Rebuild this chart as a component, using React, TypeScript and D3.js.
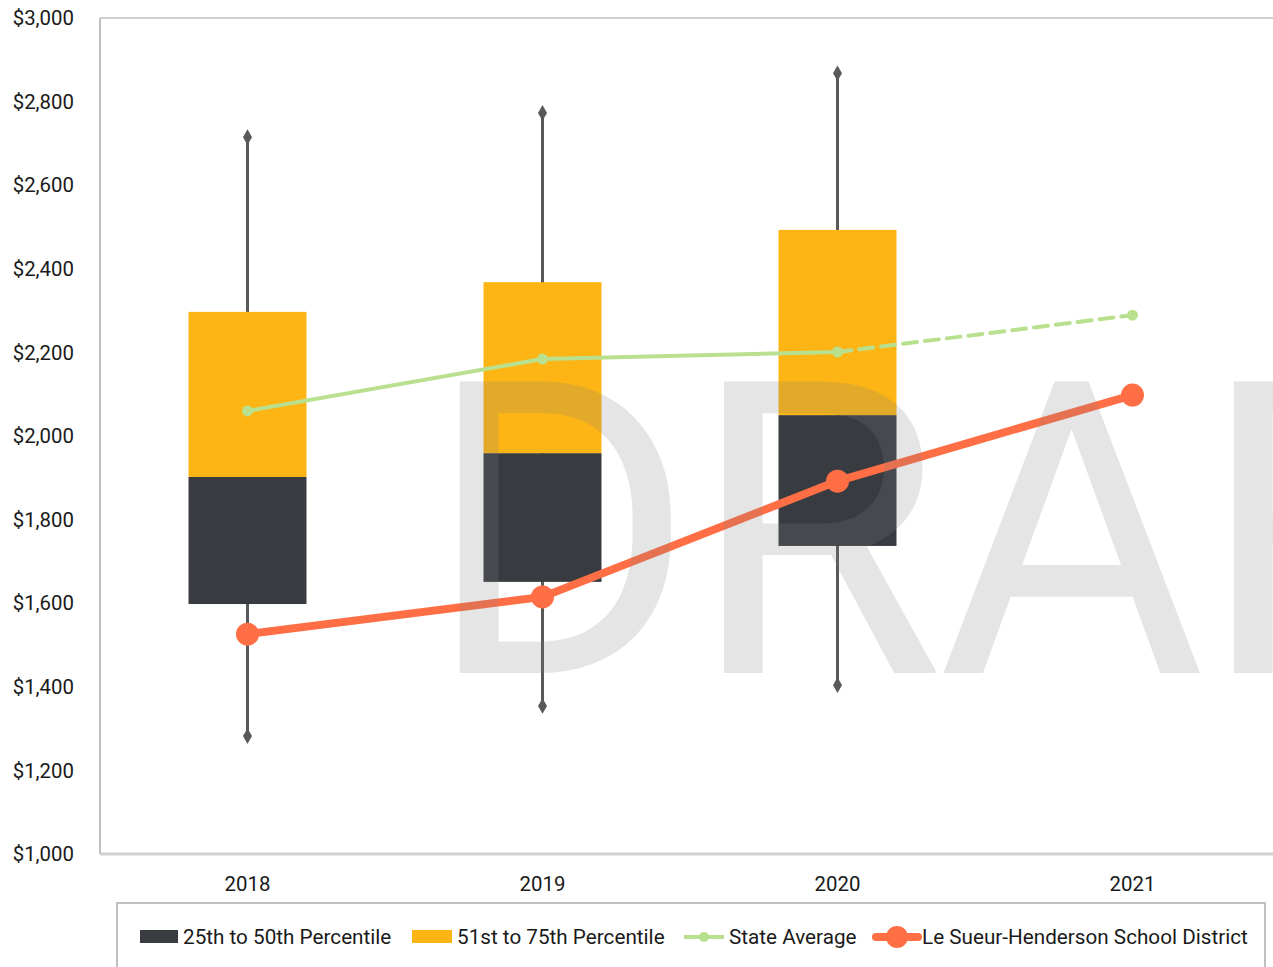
import React from "react";
import * as d3 from "d3";

const years = ["2018", "2019", "2020", "2021"];
const boxYears = ["2018", "2019", "2020"];
const whiskerLow = [1282, 1354, 1404];
const p25 = [1598, 1651, 1737];
const p50 = [1902, 1959, 2050];
const p75 = [2297, 2368, 2493];
const whiskerHigh = [2715, 2773, 2868];
const stateAverage = [2060, 2184, 2201, 2289];
const district = [1526, 1615, 1892, 2098];
const yTicks = [1000, 1200, 1400, 1600, 1800, 2000, 2200, 2400, 2600, 2800, 3000];

const W = 1273, H = 967;
const M = { left: 100, top: 18, right: 1280, bottom: 854 };
const DARK = "#383c41";
const GOLD = "#fdb515";
const GREEN = "#b9e08f";
const ORANGE = "#ff6e45";
const WHISK = "#595959";
const FONT = "Roboto, 'Noto Sans', sans-serif";
const LFS = 20.7;

export default function App() {
  const x = d3.scaleBand<string>().domain(years).range([M.left, M.right]);
  const y = d3.scaleLinear().domain([1000, 3000]).range([M.bottom, M.top]);
  const cx = (yr: string) => (x(yr) as number) + x.bandwidth() / 2;
  const bw = x.bandwidth() * 0.4;
  const fmt = (v: number) => "$" + d3.format(",")(v);

  const lineGen = d3
    .line<number>()
    .x((_, i) => cx(years[i]))
    .y((d) => y(d));

  const diamond = d3.symbol().type(d3.symbolDiamond).size(70)();

  return (
    <svg width={W} height={H} style={{ display: "block", position: "absolute", left: 0, top: 0 }} fontFamily={FONT}>
      <rect x={0} y={0} width={W} height={H} fill="#fff" />
      {/* plot border */}
      <line x1={M.left} x2={M.left} y1={M.top} y2={M.bottom} stroke="#bfbfbf" strokeWidth={2} />
      <line x1={M.left} x2={W} y1={M.top} y2={M.top} stroke="#bfbfbf" strokeWidth={1.5} />
      <line x1={M.left} x2={W} y1={M.bottom} y2={M.bottom} stroke="#d0d0d0" strokeWidth={3} />

      {/* y tick labels */}
      {yTicks.map((t) => (
        <text key={t} x={74} y={y(t)} dy="0.35em" textAnchor="end" fontSize={20.4} fill="#1a1a1a">
          {fmt(t)}
        </text>
      ))}
      {/* x labels */}
      {years.map((yr) => (
        <text key={yr} x={cx(yr)} y={884} dy="0.35em" textAnchor="middle" fontSize={20.4} fill="#1a1a1a">
          {yr}
        </text>
      ))}

      {/* whiskers */}
      {boxYears.map((yr, i) => (
        <g key={"w" + yr}>
          <line x1={cx(yr)} x2={cx(yr)} y1={y(whiskerLow[i])} y2={y(whiskerHigh[i])} stroke={WHISK} strokeWidth={3} />
          <path d={diamond as string} transform={`translate(${cx(yr)},${y(whiskerHigh[i])})`} fill={WHISK} />
          <path d={diamond as string} transform={`translate(${cx(yr)},${y(whiskerLow[i])})`} fill={WHISK} />
        </g>
      ))}
      {/* boxes */}
      {boxYears.map((yr, i) => (
        <g key={"b" + yr}>
          <rect x={cx(yr) - bw / 2} width={bw} y={y(p50[i])} height={y(p25[i]) - y(p50[i])} fill={DARK} />
          <rect x={cx(yr) - bw / 2} width={bw} y={y(p75[i])} height={y(p50[i]) - y(p75[i])} fill={GOLD} />
        </g>
      ))}

      {/* state average */}
      <path d={lineGen(stateAverage.slice(0, 3)) as string} fill="none" stroke={GREEN} strokeWidth={4} />
      <path
        d={d3.line<number>().x((_, i) => cx(years[i + 2])).y((d) => y(d))(stateAverage.slice(2)) as string}
        fill="none"
        stroke={GREEN}
        strokeWidth={4}
        strokeDasharray="14 8"
        strokeLinecap="round"
      />
      {stateAverage.map((v, i) => (
        <circle key={"s" + i} cx={cx(years[i])} cy={y(v)} r={5.5} fill={GREEN} />
      ))}

      {/* district */}
      <path d={lineGen(district) as string} fill="none" stroke={ORANGE} strokeWidth={8} />
      {district.map((v, i) => (
        <circle key={"d" + i} cx={cx(years[i])} cy={y(v)} r={11.5} fill={ORANGE} />
      ))}

      {/* watermark */}
      <text x={426} y={673} fontSize={410} letterSpacing={-5} fill="#808080" opacity={0.2} fontFamily={FONT}>
        DRAFT
      </text>

      {/* legend */}
      <rect x={117} y={903} width={1148} height={80} fill="none" stroke="#bfbfbf" strokeWidth={2} />
      <rect x={140} y={930} width={38} height={13} fill={DARK} />
      <text x={183} y={937} dy="0.35em" fontSize={LFS} fill="#1a1a1a">25th to 50th Percentile</text>
      <rect x={412} y={930} width={40} height={13} fill={GOLD} />
      <text x={457} y={937} dy="0.35em" fontSize={LFS} fill="#1a1a1a">51st to 75th Percentile</text>
      <line x1={684} x2={724} y1={937} y2={937} stroke={GREEN} strokeWidth={4} />
      <circle cx={704} cy={937} r={5} fill={GREEN} />
      <text x={729} y={937} dy="0.35em" fontSize={LFS} fill="#1a1a1a">State Average</text>
      <line x1={876} x2={918} y1={937} y2={937} stroke={ORANGE} strokeWidth={8} strokeLinecap="round" />
      <circle cx={897} cy={937} r={11} fill={ORANGE} />
      <text x={922} y={937} dy="0.35em" fontSize={LFS} fill="#1a1a1a">Le Sueur-Henderson School District</text>
    </svg>
  );
}
